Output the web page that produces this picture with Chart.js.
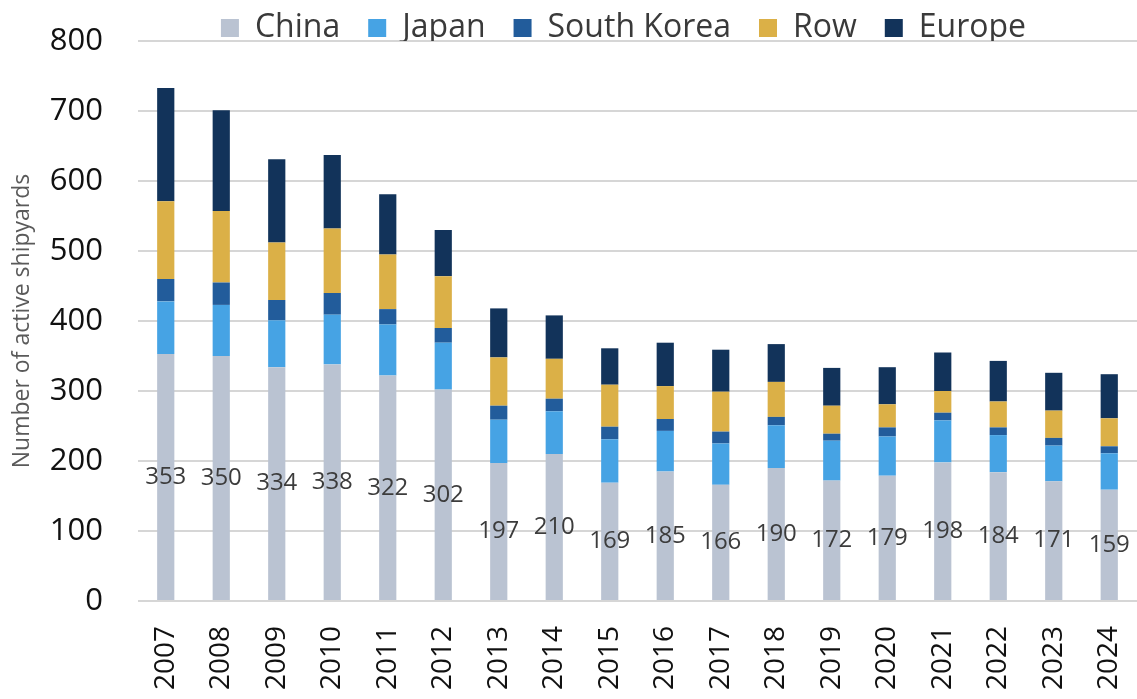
<!DOCTYPE html>
<html>
<head>
<meta charset="utf-8">
<script src="https://cdn.jsdelivr.net/npm/chart.js@4.4.1/dist/chart.umd.min.js"></script>
<style>
  html, body { margin: 0; padding: 0; background: #ffffff; }
  #wrap { width: 1137px; height: 699px; position: relative; }
</style>
</head>
<body>
<div id="wrap"><canvas id="shipyards"></canvas></div>
<script>
const years = ['2007', '2008', '2009', '2010', '2011', '2012', '2013', '2014', '2015',
               '2016', '2017', '2018', '2019', '2020', '2021', '2022', '2023', '2024'];

const china      = [353, 350, 334, 338, 322, 302, 197, 210, 169, 185, 166, 190, 172, 179, 198, 184, 171, 159];
const japan      = [75, 73, 67, 71, 73, 67, 62, 61, 62, 58, 59, 61, 57, 56, 60, 53, 51, 52];
const southKorea = [32, 32, 29, 31, 22, 21, 20, 18, 18, 17, 17, 12, 10, 13, 11, 11, 11, 10];
const row        = [111, 102, 82, 92, 78, 74, 69, 57, 60, 47, 57, 50, 40, 33, 31, 37, 39, 40];
const europe     = [162, 144, 119, 105, 86, 66, 70, 62, 52, 62, 60, 54, 54, 53, 55, 58, 54, 63];

const yTicks = [0, 100, 200, 300, 400, 500, 600, 700, 800];

const FONT = "'Open Sans', 'Noto Sans', sans-serif";

// China values written in the middle of their segment
const chinaLabels = {
    id: 'chinaLabels',
    afterDatasetsDraw(chart) {
        const ctx = chart.ctx;
        const meta = chart.getDatasetMeta(0);
        ctx.save();
        ctx.font = "24px " + FONT;
        ctx.fillStyle = '#3c3c3c';
        ctx.textAlign = 'center';
        ctx.textBaseline = 'middle';
        meta.data.forEach((bar, i) => {
            ctx.fillText(String(china[i]), bar.x, (bar.y + bar.base) / 2);
        });
        ctx.restore();
    }
};

// nudge the legend so it sits over the plot like the original
const legendShift = {
    id: 'legendShift',
    afterLayout(chart) {
        const lg = chart.legend;
        lg.left = 110;
        lg.top = lg.top - 16;
    }
};

const datasets = [
    { label: 'China',       data: china,      backgroundColor: '#bac3d2' },
    { label: 'Japan',       data: japan,      backgroundColor: '#46a3e4' },
    { label: 'South Korea', data: southKorea, backgroundColor: '#225c9b' },
    { label: 'Row',         data: row,        backgroundColor: '#dbb047' },
    { label: 'Europe',      data: europe,     backgroundColor: '#12335a' }
];
datasets.forEach(d => {
    d.borderWidth = 0;
    d.barPercentage = 0.31;
    d.categoryPercentage = 1;
});

new Chart(document.getElementById('shipyards'), {
    type: 'bar',
    data: { labels: years, datasets: datasets },
    plugins: [chinaLabels, legendShift],
    options: {
        responsive: true,
        maintainAspectRatio: false,
        animation: false,
        layout: { padding: 0 },
        plugins: {
            tooltip: { enabled: false },
            legend: {
                position: 'top',
                maxHeight: 41,
                labels: {
                    boxWidth: 18,
                    boxHeight: 18,
                    padding: 28,
                    color: '#3a3a3a',
                    font: { family: FONT, size: 32 }
                }
            }
        },
        scales: {
            x: {
                stacked: true,
                grid: { display: true, drawOnChartArea: false, drawTicks: true,
                        tickLength: 22, tickColor: 'rgba(0,0,0,0)' },
                border: { display: false },
                ticks: {
                    color: '#111',
                    font: { family: FONT, size: 28 },
                    minRotation: 90,
                    maxRotation: 90,
                    padding: 3
                },
                afterFit(scale) {
                    scale.height = 98;
                    scale.paddingLeft = 0;
                    scale.paddingRight = 0;
                }
            },
            y: {
                stacked: true,
                min: 0,
                max: 800,
                afterBuildTicks(axis) {
                    axis.ticks = yTicks.map(v => ({ value: v }));
                },
                grid: { color: '#d6d6d6', lineWidth: 2, drawTicks: true,
                        tickLength: 32, tickColor: 'rgba(0,0,0,0)' },
                border: { display: false },
                ticks: {
                    color: '#111',
                    font: { family: FONT, size: 31 },
                    padding: 3
                },
                title: {
                    display: true,
                    text: 'Number of active shipyards',
                    color: '#5a5a5a',
                    font: { family: FONT, size: 23 },
                    padding: { top: 9, bottom: 15 }
                },
                afterFit(scale) {
                    scale.width = 138;
                }
            }
        }
    }
});
</script>
</body>
</html>
